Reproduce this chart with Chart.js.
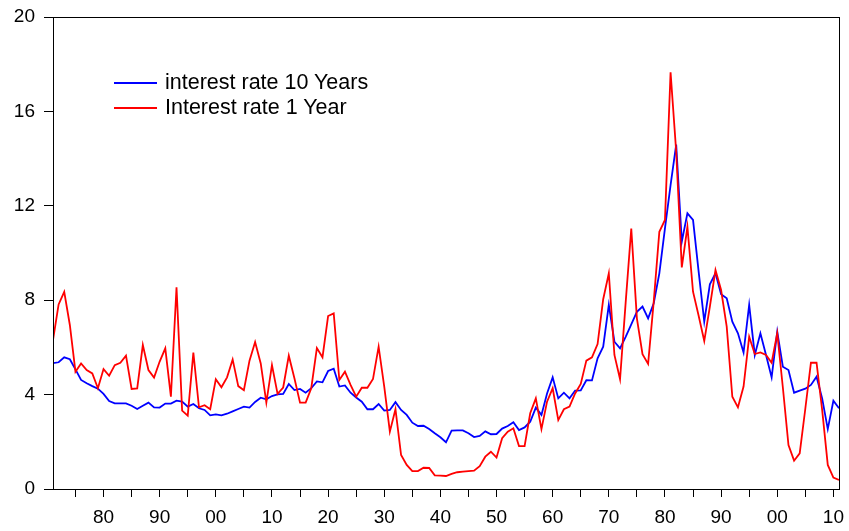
<!DOCTYPE html>
<html>
<head>
<meta charset="utf-8">
<script src="https://cdn.jsdelivr.net/npm/chart.js@4"></script>
<style>
  body { margin: 0; background: #fff; }
  #wrap { position: relative; width: 849px; height: 531px; }
  #legend { position: absolute; left: 114px; top: 70px; font: 21.5px "Liberation Sans", Arial, sans-serif; color: #000; }
  .row { height: 25px; display: flex; align-items: center; white-space: nowrap; }
  .swatch { width: 43px; height: 0; border-top: 2px solid; margin-right: 8px; }
</style>
</head>
<body>
<div id="wrap">
  <canvas id="chartCanvas" width="849" height="531"></canvas>
  <div id="legend"></div>
</div>
<script>
// annual values 1871 - 2011
const startYear = 1871;

const rate10y = [
  5.33, 5.37, 5.58, 5.50, 5.07, 4.62, 4.48, 4.36, 4.25, 4.03,
  3.73, 3.63, 3.63, 3.63, 3.53, 3.39, 3.53, 3.66, 3.46, 3.45,
  3.62, 3.62, 3.74, 3.70, 3.49, 3.60, 3.42, 3.35, 3.12, 3.16,
  3.12, 3.19, 3.29, 3.39, 3.49, 3.45, 3.69, 3.87, 3.80, 3.94,
  4.01, 4.03, 4.45, 4.19, 4.24, 4.08, 4.27, 4.56, 4.52, 5.00,
  5.10, 4.34, 4.39, 4.08, 3.88, 3.70, 3.38, 3.38, 3.60, 3.32,
  3.35, 3.68, 3.35, 3.14, 2.81, 2.67, 2.68, 2.54, 2.36, 2.19,
  1.98, 2.47, 2.48, 2.48, 2.36, 2.20, 2.25, 2.44, 2.32, 2.33,
  2.56, 2.67, 2.83, 2.50, 2.61, 2.85, 3.45, 3.14, 4.05, 4.73,
  3.84, 4.08, 3.84, 4.17, 4.18, 4.61, 4.60, 5.54, 6.03, 7.80,
  6.24, 5.96, 6.45, 6.98, 7.51, 7.73, 7.23, 7.87, 9.14, 11.04,
  12.88, 14.59, 10.48, 11.68, 11.40, 9.21, 7.09, 8.67, 9.14, 8.25,
  8.08, 7.09, 6.60, 5.78, 7.80, 5.68, 6.60, 5.68, 4.73, 6.67,
  5.18, 5.04, 4.08, 4.17, 4.25, 4.41, 4.76, 3.84, 2.54, 3.74,
  3.42
];

const rate1y = [
  6.31, 7.82, 8.35, 6.95, 4.97, 5.32, 5.04, 4.90, 4.27, 5.08,
  4.80, 5.25, 5.35, 5.65, 4.24, 4.26, 6.10, 5.04, 4.72, 5.40,
  5.96, 3.91, 8.55, 3.32, 3.11, 5.78, 3.46, 3.55, 3.38, 4.65,
  4.31, 4.73, 5.49, 4.36, 4.19, 5.44, 6.23, 5.32, 3.66, 5.25,
  4.03, 4.30, 5.65, 4.69, 3.66, 3.66, 4.27, 5.97, 5.58, 7.33,
  7.44, 4.62, 4.97, 4.41, 3.91, 4.29, 4.29, 4.66, 6.03, 4.34,
  2.43, 3.38, 1.44, 1.02, 0.76, 0.76, 0.90, 0.89, 0.58, 0.57,
  0.55, 0.64, 0.71, 0.74, 0.76, 0.78, 0.97, 1.37, 1.58, 1.33,
  2.15, 2.43, 2.57, 1.82, 1.82, 3.21, 3.84, 2.54, 3.70, 4.27,
  2.92, 3.38, 3.49, 4.05, 4.45, 5.44, 5.58, 6.14, 8.04, 9.14,
  5.68, 4.65, 7.90, 11.04, 7.23, 5.71, 5.30, 7.94, 10.90, 11.40,
  17.66, 14.30, 9.39, 11.11, 8.36, 7.34, 6.27, 7.73, 9.28, 8.43,
  6.88, 3.91, 3.46, 4.34, 6.45, 5.72, 5.79, 5.68, 5.35, 6.60,
  4.30, 1.86, 1.20, 1.51, 3.40, 5.35, 5.35, 3.35, 1.02, 0.48,
  0.38
];

const seriesNames = ["interest rate 10 Years", "Interest rate 1 Year"];
const seriesColors = ["#0000ff", "#ff0000"];

const xTickYears = [1880, 1890, 1900, 1910, 1920, 1930, 1940, 1950, 1960, 1970, 1980, 1990, 2000, 2010];
const xTickLabels = ["80", "90", "00", "10", "20", "30", "40", "50", "60", "70", "80", "90", "00", "10"];
const xMinorYears = [1875, 1885, 1895, 1905, 1915, 1925, 1935, 1945, 1955, 1965, 1975, 1985, 1995, 2005];
const yTicks = [0, 4, 8, 12, 16, 20];

const fontFamily = '"Liberation Sans", Arial, sans-serif';

function toPoints(values) {
    return values.map((v, i) => ({ x: startYear + i, y: v }));
}

// рамка вокруг области графика
const framePlugin = {
    id: "frame",
    afterDatasetsDraw(chart) {
        const { ctx, chartArea: a } = chart;
        ctx.save();
        ctx.strokeStyle = "#000";
        ctx.lineWidth = 1;
        ctx.strokeRect(Math.round(a.left) + 0.5, Math.round(a.top) + 0.5,
            Math.round(a.right - a.left), Math.round(a.bottom - a.top));
        ctx.restore();
    }
};

const ctx = document.getElementById("chartCanvas").getContext("2d");
const chart = new Chart(ctx, {
    type: "line",
    data: {
        datasets: [{
            label: seriesNames[0],
            data: toPoints(rate10y),
            borderColor: seriesColors[0],
            borderWidth: 1.8,
            pointRadius: 0,
            tension: 0,
            fill: false,
            order: 1
        }, {
            label: seriesNames[1],
            data: toPoints(rate1y),
            borderColor: seriesColors[1],
            borderWidth: 1.8,
            pointRadius: 0,
            tension: 0,
            fill: false,
            order: 0
        }]
    },
    options: {
        responsive: false,
        animation: false,
        layout: { padding: { top: 17, right: 10, left: 0, bottom: 0 } },
        plugins: {
            legend: { display: false },
            tooltip: { enabled: false }
        },
        scales: {
            x: {
                type: "linear",
                min: startYear,
                max: startYear + rate10y.length - 1,
                afterBuildTicks: s => {
                    s.ticks = xTickYears.concat(xMinorYears).sort((a, b) => a - b).map(v => ({ value: v }));
                },
                afterFit: s => {
                    s.height = 42;
                    s.paddingLeft = 0;
                    s.paddingRight = 0;
                },
                ticks: {
                    autoSkip: false,
                    maxRotation: 0,
                    padding: 9,
                    color: "#000",
                    font: { family: fontFamily, size: 19 },
                    callback: v => {
                        const i = xTickYears.indexOf(v);
                        return i >= 0 ? xTickLabels[i] : "";
                    }
                },
                grid: { drawOnChartArea: false, drawTicks: true, tickLength: 8, color: "#000" },
                border: { display: true, color: "#000", width: 1 }
            },
            y: {
                min: 0,
                max: 20,
                afterBuildTicks: s => { s.ticks = yTicks.map(v => ({ value: v })); },
                afterFit: s => {
                    s.width = 53;
                    s.paddingTop = 0;
                    s.paddingBottom = 0;
                },
                ticks: {
                    padding: 9,
                    color: "#000",
                    font: { family: fontFamily, size: 19 }
                },
                grid: { drawOnChartArea: false, drawTicks: true, tickLength: 9, color: "#000" },
                border: { display: true, color: "#000", width: 1 }
            }
        }
    },
    plugins: [framePlugin]
});

// легенда внутри графика
const legendBox = document.getElementById("legend");
seriesNames.forEach((name, i) => {
    const row = document.createElement("div");
    row.className = "row";
    const sw = document.createElement("span");
    sw.className = "swatch";
    sw.style.borderTopColor = seriesColors[i];
    const txt = document.createElement("span");
    txt.textContent = name;
    row.appendChild(sw);
    row.appendChild(txt);
    legendBox.appendChild(row);
});
</script>
</body>
</html>
